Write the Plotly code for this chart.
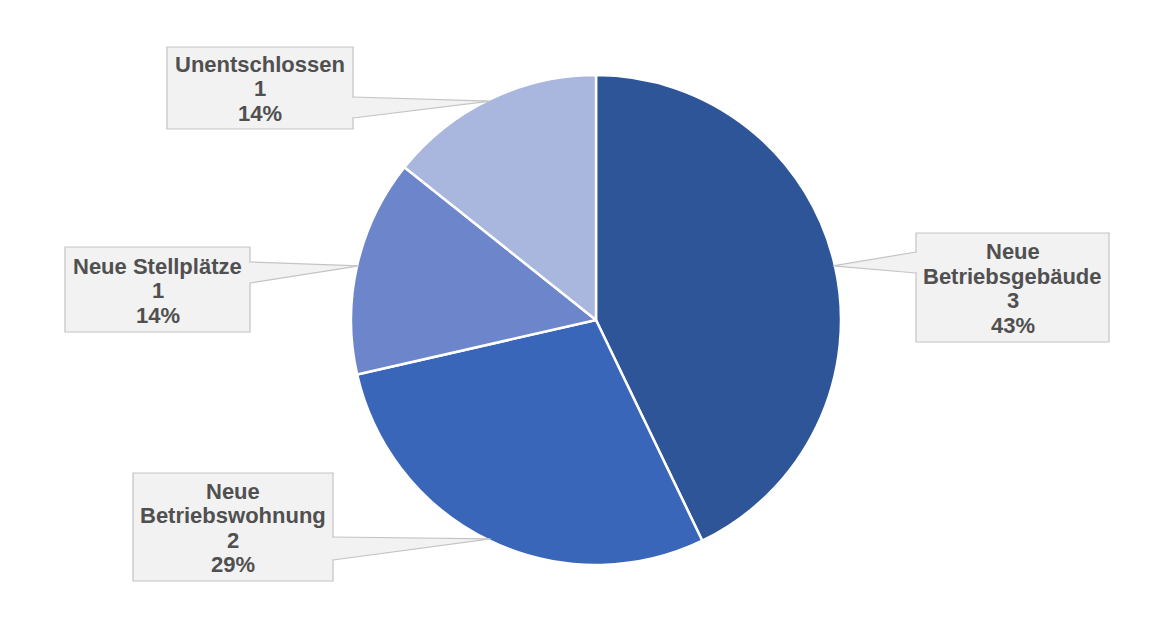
import numpy as np
import plotly.graph_objects as go

# ---- data ----
labels = ["Neue Betriebsgebäude", "Neue Betriebswohnung", "Neue Stellplätze", "Unentschlossen"]
label_lines = [["Neue", "Betriebsgebäude"], ["Neue", "Betriebswohnung"], ["Neue Stellplätze"], ["Unentschlossen"]]
values = [3, 2, 1, 1]
colors = ["#2E5597", "#3A66B9", "#6D85CA", "#A9B6DD"]

# ---- layout constants (screen pixels) ----
W, H = 1171, 625
OFF = 8  # page body margin
# callout boxes: x0, y0, x1, y1 (pixels, top-left origin)
boxes = [
    (916, 233, 1109, 342),
    (133, 473, 333, 581),
    (65, 247, 250, 332),
    (167, 47, 353, 129),
]
wedge_side = ["left", "right", "right", "right"]
wedge_span = [(252, 273), (537, 560), (262, 283), (97, 118)]
LINE_GAP = 24.5
FONT_SIZE = 22

FILL = "#F2F2F2"
EDGE = "#C4C4C4"

def px(x):
    return (x - OFF) / W

def py(y):
    return 1 - (y - OFF) / H

# pie placement in screen pixels
pie_cx, pie_cy, pie_r = 596, 320, 245
pie_dom_x = [px(pie_cx - pie_r), px(pie_cx + pie_r)]
pie_dom_y = [py(pie_cy + pie_r), py(pie_cy - pie_r)]

fig = go.Figure(go.Pie(
    labels=labels, values=values, sort=False, direction="clockwise", rotation=0,
    marker=dict(colors=colors, line=dict(color="white", width=2.5)),
    textinfo="none", hoverinfo="label+value+percent", showlegend=False,
    domain=dict(x=pie_dom_x, y=pie_dom_y),
))

vals = np.array(values, dtype=float)
cum = np.cumsum(vals) / vals.sum()
starts = np.concatenate([[0], cum[:-1]])
mids = (starts + cum) / 2 * 2 * np.pi  # clockwise from top
pcts = np.round(vals / vals.sum() * 100).astype(int)

shapes = []
annotations = []
for i in range(len(values)):
    x0, y0, x1, y1 = boxes[i]
    tipx = pie_cx + (pie_r - 2) * np.sin(mids[i])
    tipy = pie_cy - (pie_r - 2) * np.cos(mids[i])
    bx = x0 if wedge_side[i] == "left" else x1
    b1, b2 = wedge_span[i]
    shapes.append(dict(type="rect", xref="paper", yref="paper",
                       x0=px(x0), x1=px(x1), y0=py(y1), y1=py(y0),
                       fillcolor=FILL, line=dict(color=EDGE, width=1.2), layer="above"))
    path = f"M {px(bx)},{py(b1)} L {px(tipx)},{py(tipy)} L {px(bx)},{py(b2)}"
    shapes.append(dict(type="path", xref="paper", yref="paper", path=path,
                       fillcolor=FILL, line=dict(color=EDGE, width=1.2), layer="above"))
    shapes.append(dict(type="line", xref="paper", yref="paper",
                       x0=px(bx), x1=px(bx), y0=py(b1 + 1), y1=py(b2 - 1),
                       line=dict(color=FILL, width=2.5), layer="above"))
    lines = label_lines[i] + [str(values[i]), f"{pcts[i]}%"]
    n = len(lines)
    ymid = (y0 + y1) / 2 + 1
    for k, t in enumerate(lines):
        ly = ymid + (k - (n - 1) / 2) * LINE_GAP
        annotations.append(dict(x=px((x0 + x1) / 2), y=py(ly), xref="paper", yref="paper",
                                text=f"<b>{t}</b>", showarrow=False, xanchor="center", yanchor="middle",
                                font=dict(family="Liberation Sans, Arial", size=FONT_SIZE, color="#505050")))

fig.update_layout(
    width=W, height=H, margin=dict(l=0, r=0, t=0, b=0),
    paper_bgcolor="white", plot_bgcolor="white",
    shapes=shapes, annotations=annotations,
)
fig.write_html("out.html")
